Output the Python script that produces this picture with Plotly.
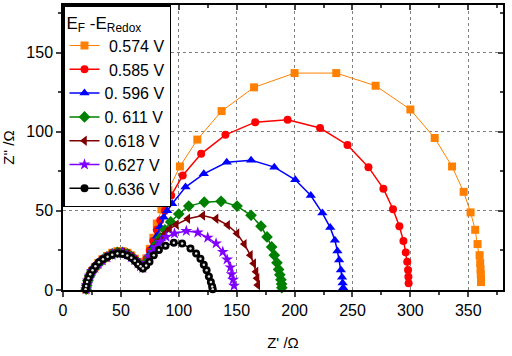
import plotly.graph_objects as go

# ---- data (Z' / Ohm, Z'' / Ohm) ----
names = ["&nbsp;0.574 V", "&nbsp;0.585 V", "0. 596 V", "0. 611 V", "0.618 V", "0.627 V", "0.636 V"]

x_574 = [20, 20.5, 21.5, 23, 25, 27.5, 30.5, 34, 38, 42.5, 47, 51.5, 55.5, 59, 62, 64.8, 67, 69,
         72, 75, 78, 81, 85, 91, 101, 116, 137, 165, 200, 236, 270, 300, 321, 336, 346, 352, 356,
         358, 359.8, 360.3, 360.6, 360.8, 361, 361]
y_574 = [0.5, 3, 6, 9, 12, 14.5, 17, 19.5, 21.5, 23.5, 24.5, 24.5, 23.5, 21.8, 19.8, 17.8, 16, 15,
         20, 26, 33, 42, 51, 63, 78, 95, 113, 128, 137, 137, 129, 114, 96, 78, 62, 49, 38,
         29, 22, 17, 13, 10, 7, 5]

x_585 = [20, 20.5, 21.5, 23, 25, 27.5, 30.5, 34, 38, 42.5, 47, 51.5, 55.5, 59, 62, 64.8, 67, 69,
         72, 75, 78, 81, 84, 88, 93.4, 103.4, 119.3, 140.3, 166, 194, 222, 245.7, 263.8, 276.7,
         285, 290.5, 294, 296, 297.3, 298, 298.3, 298.5]
y_585 = [0.5, 3, 6, 9, 12, 14.5, 17, 19.5, 21.5, 23.3, 24.2, 24.2, 23.2, 21.5, 19.5, 17.5, 15.8, 14.8,
         19.5, 25, 31, 38, 44, 50, 59.7, 72.3, 86, 98, 106, 107.5, 102.3, 91.6, 77.6, 64,
         51, 40.3, 31, 23.7, 17.8, 12.6, 8.4, 4.2]

x_596 = [20, 20.5, 21.5, 23, 25, 27.5, 30.5, 34, 38, 42.5, 47, 51.5, 55.5, 59, 62, 64.8, 67, 69,
         72, 75, 78, 81, 84, 87, 90, 94.3, 105.8, 121.6, 141.4, 162.4, 182.5, 200.6, 214, 224,
         230.8, 234.8, 237, 238.5, 240, 241, 241.5, 242]
y_596 = [0.5, 3, 6, 9, 12, 14.3, 16.8, 19.2, 21.2, 23, 24, 24, 23, 21.3, 19.3, 17.3, 15.5, 14.5,
         18, 23, 28, 34, 40, 46, 50, 54.5, 65, 73.4, 80.7, 82, 77.6, 69.6, 59.7, 48.6,
         39.4, 31.4, 24.7, 19, 12.6, 8, 4.5, 1.5]

x_611 = [20, 20.5, 21.5, 23, 25, 27.5, 30.5, 34, 38, 42.5, 47, 51.5, 55.5, 59, 62, 64.8, 67, 69,
         72, 75, 78, 81, 84, 88, 93, 100, 108.6, 122, 136.5, 150.3, 162.4, 171, 176.2, 180.2,
         182.5, 184.8, 186.2, 187.3, 188.2, 188.8, 189]
y_611 = [0.5, 3, 6, 9, 12, 14.2, 16.7, 19, 21, 22.8, 23.8, 23.8, 22.8, 21.2, 19.2, 17.2, 15.4, 14.4,
         17.5, 21, 25, 29, 33, 38, 43, 48, 53, 55.5, 56, 53, 47.2, 40.3, 33.5, 27.2,
         22, 17.2, 13, 9.6, 6.5, 3.8, 1.5]

x_618 = [20, 20.5, 21.5, 23, 25, 27.5, 30.5, 34, 38, 42.5, 47, 51.5, 55.5, 59, 62, 64.8, 67, 69,
         72, 75, 78, 81, 84, 88, 92, 97.8, 107.8, 120.7, 132.2, 142.2, 150.3, 156.6, 161.8, 164.7,
         166.7, 167.6, 168.2]
y_618 = [0.5, 3, 6, 9, 12, 14.1, 16.6, 18.9, 20.8, 22.6, 23.6, 23.6, 22.6, 21, 19, 17, 15.2, 14.2,
         17, 20, 24, 28, 31.5, 35.5, 38.5, 41.3, 45, 47, 45, 41, 35.7, 29, 22, 16.8,
         11.5, 7.4, 3.1]

x_627 = [20, 20.5, 21.5, 23, 25, 27.5, 30.5, 34, 38, 42.5, 47, 51.5, 55.5, 59, 62, 64.8, 67, 69,
         72, 74.7, 77.6, 80.5, 84.2, 89.1, 96.3, 106.5, 116.4, 125, 132.2, 138, 141.7, 144.6,
         145.7, 146.9, 147.7]
y_627 = [0.5, 3, 6, 9, 12, 14, 16.5, 18.8, 20.6, 22.4, 23.4, 23.4, 22.4, 20.8, 18.8, 16.8, 15, 14,
         17, 21, 24, 27, 30.4, 33.5, 35.7, 37.3, 36.3, 33.1, 29.4, 24.1, 19.3, 14.3,
         10, 6.5, 2.7]

x_636 = [19.5, 20, 20.8, 22, 23.5, 25.5, 28, 31, 34.5, 38.5, 42.5, 47, 51.5, 55.5, 59, 62, 64.7, 67, 69,
         71.8, 74.7, 78.4, 82.8, 88.5, 95.7, 102.9, 110.1, 115, 118.7, 121.6, 124, 126, 127.7,
         128.8, 129.3]
y_636 = [0.5, 2.5, 5, 7.5, 10, 12.5, 15, 17.5, 19.5, 21, 22.3, 23, 22.8, 21.8, 20.3, 18.5, 16.5, 15, 13.6,
         15.5, 17.8, 22, 25.2, 27.9, 29.8, 29.4, 26.2, 23.1, 19.8, 16, 12.5, 8.6, 5,
         2.2, 0.5]

x_ticks = [0, 50, 100, 150, 200, 250, 300, 350]
y_ticks = [0, 50, 100, 150]

series = [
    (x_574, y_574, "#FF8000", "square", 8, 1),
    (x_585, y_585, "#FF0000", "circle", 8, 1.5),
    (x_596, y_596, "#0000FF", "triangle-up", 9, 1.5),
    (x_611, y_611, "#008000", "diamond", 9, 1.5),
    (x_618, y_618, "#800000", "triangle-left", 9, 1.5),
    (x_627, y_627, "#8000FF", "star", 9, 1.5),
    (x_636, y_636, "#000000", "circle", 8, 1.5),
]

FONT = "Liberation Sans, Arial, sans-serif"

fig = go.Figure()
for (xs, ys, col, sym, sz, lw), nm in zip(series, names):
    fig.add_trace(go.Scatter(
        x=xs, y=ys, mode="lines+markers", name=nm,
        line=dict(color=col, width=lw),
        marker=dict(symbol=sym, size=sz, color=col, line=dict(width=0)),
        cliponaxis=False,
    ))

# white centre dots of the black series
fig.add_trace(go.Scatter(
    x=x_636, y=y_636, mode="markers", showlegend=False, hoverinfo="skip",
    marker=dict(symbol="circle", size=2.5, color="#E0E0E0", line=dict(width=0)),
    cliponaxis=False,
))

# invisible trace for the mirror axes (top / right, inside ticks)
fig.add_trace(go.Scatter(x=[0], y=[0], xaxis="x2", yaxis="y2", mode="markers",
                         marker=dict(opacity=0), showlegend=False, hoverinfo="skip"))

fig.update_layout(
    width=512, height=356,
    margin=dict(l=63, r=9, t=5, b=66, autoexpand=False),
    paper_bgcolor="white", plot_bgcolor="white",
    font=dict(family=FONT, size=15, color="black"),
    showlegend=True,
    legend=dict(
        x=0, y=1, xanchor="left", yanchor="top",
        bgcolor="white", bordercolor="black", borderwidth=1.5,
        font=dict(family=FONT, size=16, color="black"),
        title=dict(text="E<sub>F</sub> -E<sub>Redox</sub>",
                   font=dict(family=FONT, size=17), side="top"),
        itemwidth=30, tracegroupgap=0,
    ),
    xaxis=dict(
        range=[0, 380], tickvals=x_ticks, ticks="outside", ticklen=5, tickwidth=1.5,
        showline=True, linecolor="black", linewidth=1.5, automargin=False,
        showgrid=True, gridcolor="#808080", griddash="dot", gridwidth=1,
        zeroline=False,
        minor=dict(ticks="outside", ticklen=3, tickwidth=1.5, dtick=25, tick0=0, showgrid=False),
        title=dict(text="Z' /Ω", font=dict(size=15), standoff=20),
        tickfont=dict(size=16),
    ),
    yaxis=dict(
        range=[0, 180], tickvals=y_ticks, ticks="outside", ticklen=5, tickwidth=1.5,
        showline=True, linecolor="black", linewidth=1.5, automargin=False,
        showgrid=True, gridcolor="#808080", griddash="dot", gridwidth=1,
        zeroline=False,
        minor=dict(ticks="outside", ticklen=3, tickwidth=1.5, dtick=25, tick0=0, showgrid=False),
        title=dict(text="Z'' /Ω", font=dict(size=15), standoff=10),
        tickfont=dict(size=16),
    ),
    xaxis2=dict(
        overlaying="x", side="top", anchor="y", range=[0, 380], tickvals=x_ticks,
        ticks="inside", ticklen=5, tickwidth=1.5, showticklabels=False, automargin=False,
        showline=True, linecolor="black", linewidth=1.5, showgrid=False, zeroline=False,
        minor=dict(ticks="inside", ticklen=3, tickwidth=1.5, dtick=25, tick0=0, showgrid=False),
    ),
    yaxis2=dict(
        overlaying="y", side="right", anchor="x", range=[0, 180], tickvals=y_ticks,
        ticks="inside", ticklen=5, tickwidth=1.5, showticklabels=False, automargin=False,
        showline=True, linecolor="black", linewidth=1.5, showgrid=False, zeroline=False,
        minor=dict(ticks="inside", ticklen=3, tickwidth=1.5, dtick=25, tick0=0, showgrid=False),
    ),
)

fig.write_html("out.html", config={"displayModeBar": False},
               post_script="document.body.style.margin='0';document.body.style.padding='0';")
